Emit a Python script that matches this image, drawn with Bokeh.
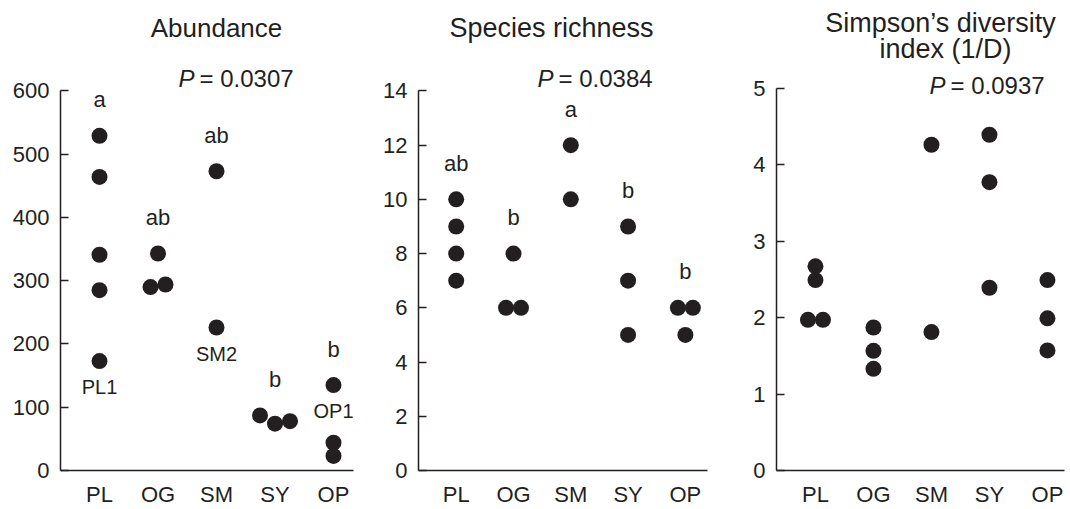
from bokeh.plotting import figure
from bokeh.layouts import row
from bokeh.models import FixedTicker
from bokeh.core.properties import value
from bokeh.embed import file_html
from bokeh.resources import INLINE

# ---------------- data ----------------
categories = ["PL", "OG", "SM", "SY", "OP"]

abundance_values = [
    [529, 464, 341, 285, 173],   # PL
    [343, 290, 294],             # OG
    [473, 226],                  # SM
    [87, 74, 78],                # SY
    [135, 44, 23],               # OP
]
abundance_letters = ["a", "ab", "ab", "b", "b"]
abundance_samples = [("PL", 173, "PL1"), ("SM", 226, "SM2"), ("OP", 135, "OP1")]
abundance_ticks = [0, 100, 200, 300, 400, 500, 600]

richness_values = [
    [10, 9, 8, 7],
    [8, 6, 6],
    [12, 10],
    [9, 7, 5],
    [6, 6, 5],
]
richness_letters = ["ab", "b", "a", "b", "b"]
richness_ticks = [0, 2, 4, 6, 8, 10, 12, 14]

simpson_values = [
    [2.67, 2.49, 1.97, 1.97],
    [1.87, 1.565, 1.33],
    [4.26, 1.81],
    [4.39, 3.77, 2.39],
    [2.49, 1.99, 1.57],
]
simpson_ticks = [0, 1, 2, 3, 4, 5]

p_values = ["0.0307", "0.0384", "0.0937"]
titles = [["Abundance"], ["Species richness"], ["Simpson’s diversity", "index (1/D)"]]

# ---------------- style ----------------
HEIGHT = 509
INK = "#231f20"
FONT = "Liberation Sans"
DOT = 16          # marker diameter, px
SWARM_GAP = 15    # horizontal spacing of near-equal points, px
NEAR_PX = 10      # vertical closeness that triggers side-by-side placement


def swarm_offsets(vals, ppu_y, ppu_x):
    order = sorted(range(len(vals)), key=lambda i: vals[i])
    clusters = []
    for i in order:
        if clusters and abs(vals[i] - vals[clusters[-1][-1]]) * ppu_y < NEAR_PX:
            clusters[-1].append(i)
        else:
            clusters.append([i])
    offs = [0.0] * len(vals)
    for c in clusters:
        c = sorted(c)
        k = len(c)
        for j, i in enumerate(c):
            offs[i] = (j - (k - 1) / 2) * SWARM_GAP / ppu_x
    return offs


def make_panel(groups, yticks, letters, samples, pval, title_lines,
               width, mb_l, mb_r, axis_top, mb_b, x_start, x_end,
               title_cxs, title_cys, title_size, p_left, p_cy):
    top_tick = yticks[-1]
    fl, fr = mb_l, width - mb_r
    ft, fb = 0, HEIGHT - mb_b
    ppu_y = (fb - axis_top) / top_tick          # px per data unit
    y_end = (fb - ft) / ppu_y                   # frame reaches the top of the canvas
    ppu_x = (fr - fl) / (x_end - x_start)

    p = figure(width=width, height=HEIGHT, x_range=(x_start, x_end), y_range=(0, y_end),
               output_backend="svg", toolbar_location=None, title=None,
               min_border_left=mb_l, min_border_right=mb_r,
               min_border_top=0, min_border_bottom=mb_b)
    p.xgrid.visible = False
    p.ygrid.visible = False
    p.outline_line_color = None
    p.background_fill_color = "white"
    p.border_fill_color = "white"

    for ax in (p.xaxis[0], p.yaxis[0]):
        ax.axis_line_color = INK
        ax.axis_line_width = 1.5
        ax.major_tick_line_color = INK
        ax.major_tick_line_width = 1.5
        ax.minor_tick_line_color = None
        ax.major_label_text_font = FONT
        ax.major_label_text_font_size = "22px"
        ax.major_label_text_color = INK

    p.yaxis.ticker = FixedTicker(ticks=yticks)
    p.yaxis.bounds = (yticks[0], top_tick)
    p.yaxis.major_tick_in = 8
    p.yaxis.major_tick_out = 0
    p.yaxis.major_label_standoff = 11

    p.xaxis.ticker = FixedTicker(ticks=list(range(1, len(categories) + 1)))
    p.xaxis.major_label_overrides = {i + 1: c for i, c in enumerate(categories)}
    p.xaxis.major_tick_in = 0
    p.xaxis.major_tick_out = 0
    p.xaxis.major_label_standoff = 11

    def dx(px):
        return x_start + (px - fl) / ppu_x

    def dy(py):
        return (fb - py) / ppu_y

    xs, ys = [], []
    for i, vals in enumerate(groups):
        offs = swarm_offsets(vals, ppu_y, ppu_x)
        xs += [i + 1 + o for o in offs]
        ys += vals
    p.scatter(x=xs, y=ys, size=DOT, fill_color=INK, line_color=None)

    if letters:
        p.text(x=list(range(1, len(categories) + 1)), y=[max(g) for g in groups], text=letters,
               y_offset=-36, text_align="center", text_baseline="middle",
               text_font=value(FONT), text_font_size="22px", text_color=INK)
    if samples:
        p.text(x=[categories.index(c) + 1 for c, _, _ in samples], y=[v for _, v, _ in samples],
               text=[t for _, _, t in samples], y_offset=26, text_align="center",
               text_baseline="middle", text_font=value(FONT), text_font_size="20px", text_color=INK)

    p.text(x=[dx(c) for c in title_cxs], y=[dy(c) for c in title_cys], text=title_lines,
           text_align="center", text_baseline="middle", text_font=value(FONT),
           text_font_size=title_size, text_color=INK)
    p.text(x=[dx(p_left)], y=[dy(p_cy)], text=["P"], text_align="left",
           text_baseline="middle", text_font=value(FONT), text_font_style="italic",
           text_font_size="24px", text_color=INK)
    p.text(x=[dx(p_left + 21)], y=[dy(p_cy)], text=["= " + pval], text_align="left",
           text_baseline="middle", text_font=value(FONT),
           text_font_size="24px", text_color=INK)
    return p


p1 = make_panel(abundance_values, abundance_ticks, abundance_letters, abundance_samples,
                p_values[0], titles[0],
                width=372, mb_l=60, mb_r=19, axis_top=91, mb_b=36, x_start=0.333, x_end=5.342,
                title_cxs=[216], title_cys=[28], title_size="26px", p_left=178, p_cy=79)
p2 = make_panel(richness_values, richness_ticks, richness_letters, None,
                p_values[1], titles[1],
                width=355, mb_l=46, mb_r=20, axis_top=91, mb_b=36, x_start=0.342, x_end=5.386,
                title_cxs=[179], title_cys=[28], title_size="27px", p_left=165, p_cy=79)
p3 = make_panel(simpson_values, simpson_ticks, None, None,
                p_values[2], titles[2],
                width=343, mb_l=49, mb_r=6, axis_top=88, mb_b=37, x_start=0.328, x_end=5.294,
                title_cxs=[213, 218], title_cys=[23, 49], title_size="27px", p_left=202, p_cy=85)

layout = row(p1, p2, p3)
open("out.html", "w").write(file_html(layout, INLINE))
